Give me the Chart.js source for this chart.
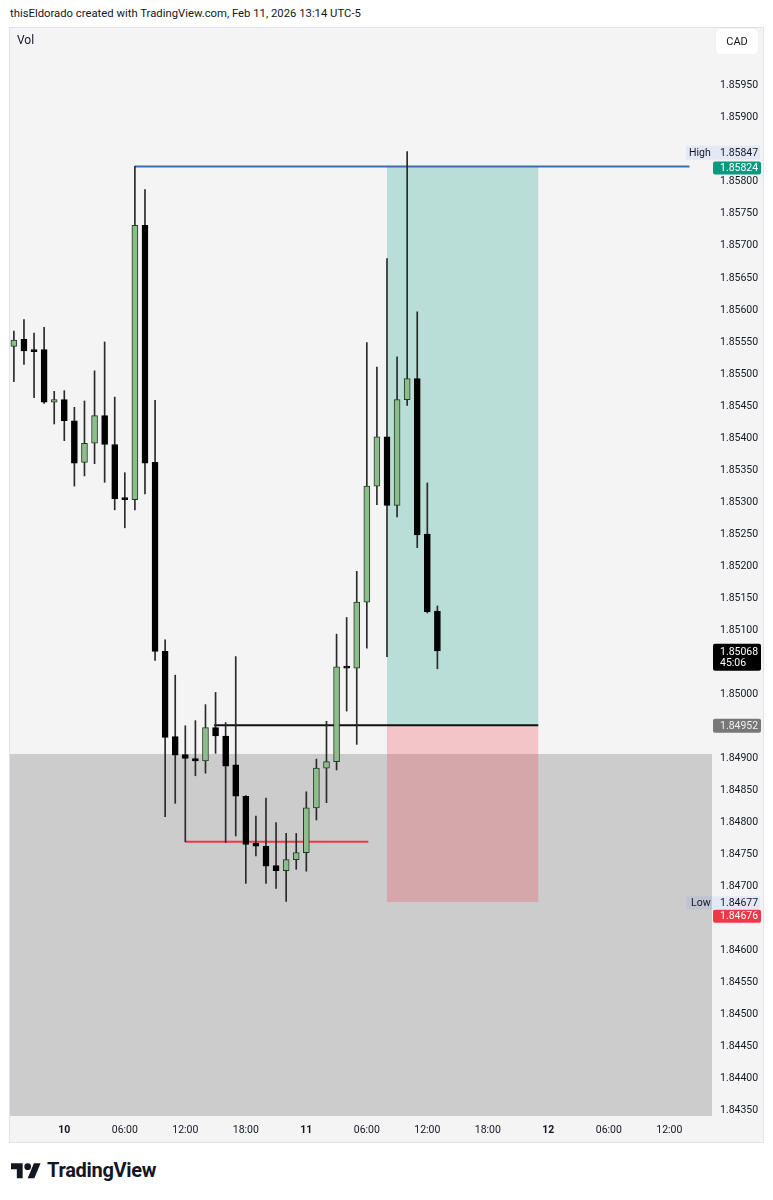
<!DOCTYPE html>
<html>
<head>
<meta charset="utf-8">
<script src="https://cdn.jsdelivr.net/npm/chart.js@4.4.1/dist/chart.umd.min.js"></script>
<style>
html,body{margin:0;padding:0;background:#fff;width:773px;height:1200px;overflow:hidden;font-family:Roboto,"Noto Sans",sans-serif;color:#131722}
#hdr{position:absolute;left:10px;top:6px;font-size:11.3px;line-height:16px;white-space:nowrap;color:#131722}
#pane{position:absolute;left:9px;top:27px;width:755px;height:1116px;background:#f4f4f4;box-sizing:border-box;border:1px solid #e0e3eb}
#cv{position:absolute;left:0;top:0}
#vol{position:absolute;left:17px;top:33px;font-size:12px;line-height:14px;color:#131722}
#cad{position:absolute;left:716px;top:29px;width:42px;height:25px;background:#fff;border-radius:4px;font-size:11px;line-height:25px;text-align:center;color:#131722;box-shadow:0 0 1px rgba(0,0,0,0.15)}
#logo{position:absolute;left:10px;top:1158px;display:flex;align-items:center;gap:5px}
#logo span{font-size:20px;font-weight:700;letter-spacing:-0.3px;color:#131722;line-height:24px}
</style>
</head>
<body>
<div id="hdr">thisEldorado created with TradingView.com, Feb 11, 2026 13:14 UTC-5</div>
<div id="pane"><canvas id="cv" width="753" height="1114"></canvas></div>
<div id="vol">Vol</div>
<div id="cad">CAD</div>
<div id="logo"><svg width="32" height="20" viewBox="0 0 36 24"><path d="M14 22H7V11H0V4h14v18zM28 22h-8l7.5-18h8L28 22z" fill="#131722"/><circle cx="20" cy="8" r="4" fill="#131722"/></svg><span>TradingView</span></div>
<script>
// ---- data (hours from Feb 10 00:00, 1H candles) ----
const hours  = [-5,-4,-3,-2,-1,0,1,2,3,4,5,6,7,8,9,10,11,12,13,14,15,16,17,18,19,20,21,22,23,24,25,26,27,28,29,30,31,32,33,34,35,36,37];
const opens  = [1.85543,1.85554,1.85537,1.85538,1.85456,1.85460,1.85427,1.85362,1.85392,1.85435,1.85390,1.85305,1.85304,1.85732,1.85362,1.85067,1.84934,1.84906,1.84900,1.84896,1.84948,1.84935,1.84890,1.84841,1.84768,1.84763,1.84733,1.84725,1.84742,1.84753,1.84823,1.84885,1.84895,1.85043,1.85041,1.85144,1.85325,1.85402,1.85295,1.85460,1.85493,1.85250,1.85130];
const highs  = [1.85567,1.85585,1.85564,1.85573,1.85473,1.85474,1.85448,1.85458,1.85505,1.85550,1.85464,1.85346,1.85824,1.85788,1.85459,1.85085,1.85030,1.84951,1.84959,1.84984,1.85003,1.84956,1.85059,1.84842,1.84810,1.84838,1.84800,1.84783,1.84783,1.84848,1.84899,1.84958,1.85094,1.85120,1.85192,1.85549,1.85511,1.85680,1.85527,1.85847,1.85597,1.85330,1.85138];
const lows   = [1.85488,1.85515,1.85463,1.85454,1.85422,1.85396,1.85325,1.85341,1.85360,1.85331,1.85288,1.85260,1.85288,1.85313,1.85053,1.84809,1.84830,1.84770,1.84873,1.84877,1.84908,1.84769,1.84779,1.84705,1.84748,1.84705,1.84697,1.84677,1.84727,1.84724,1.84804,1.84831,1.84882,1.84974,1.84922,1.85072,1.85296,1.85059,1.85277,1.85451,1.85229,1.85127,1.85040];
const closes = [1.85553,1.85536,1.85535,1.85456,1.85460,1.85427,1.85361,1.85392,1.85435,1.85390,1.85305,1.85304,1.85732,1.85361,1.85067,1.84933,1.84905,1.84900,1.84896,1.84948,1.84935,1.84888,1.84841,1.84766,1.84763,1.84732,1.84725,1.84742,1.84753,1.84823,1.84885,1.84895,1.85043,1.85041,1.85144,1.85325,1.85402,1.85295,1.85460,1.85493,1.85249,1.85129,1.85068];

const yTicks = [1.8595,1.8590,1.8580,1.8575,1.8570,1.8565,1.8560,1.8555,1.8550,1.8545,1.8540,1.8535,1.8530,1.8525,1.8520,1.8515,1.8510,1.8500,1.8490,1.8485,1.8480,1.8475,1.8470,1.8460,1.8455,1.8450,1.8445,1.8440,1.8435];
const xTickHours  = [0,6,12,18,24,30,36,42,48,54,60];
const xTickLabels = ["10","06:00","12:00","18:00","11","06:00","12:00","18:00","12","06:00","12:00"];
const dayLabels   = ["10","11","12"];

// drawings
const highLineHours = [7, 62];      const highLinePrice = 1.85824;
const entryLineHours = [14.85, 47]; const entryPrice = 1.84952;
const redLineHours = [12, 30.15];   const redLinePrice = 1.84770;
const positionHours = [32, 47];     const targetPrice = 1.85824; const stopPrice = 1.84676;
const grayZoneTop = 1.84907;
const rangeHigh = 1.85847, rangeLow = 1.84677, lastPrice = 1.85068, countdown = "45:06";

const xMin = -5.385, xMax = 64.23, yMin = 1.84342, yMax = 1.86040;

const zonePlugin = {
  id: 'zones',
  beforeDatasetsDraw(chart) {
    const {ctx, chartArea: a, scales: {x, y}} = chart;
    ctx.save();
    ctx.beginPath(); ctx.rect(a.left, a.top, a.right - a.left, a.bottom - a.top); ctx.clip();
    const gy = y.getPixelForValue(grayZoneTop);
    ctx.fillStyle = '#cccccc';
    ctx.fillRect(a.left, gy, a.right - a.left, a.bottom - gy);
    const x1 = x.getPixelForValue(positionHours[0]), x2 = x.getPixelForValue(positionHours[1]);
    const yt = y.getPixelForValue(targetPrice), ye = y.getPixelForValue(entryPrice), ys = y.getPixelForValue(stopPrice);
    ctx.fillStyle = 'rgba(8,153,129,0.25)';
    ctx.fillRect(x1, yt, x2 - x1, ye - yt);
    ctx.fillStyle = 'rgba(242,54,69,0.25)';
    ctx.fillRect(x1, ye, x2 - x1, ys - ye);
    ctx.restore();
  }
};

function tag(ctx, x, yc, w, h, bg, color, text) {
  ctx.fillStyle = bg;
  ctx.beginPath();
  if (ctx.roundRect) ctx.roundRect(x, yc - h / 2, w, h, 2); else ctx.rect(x, yc - h / 2, w, h);
  ctx.fill();
  ctx.fillStyle = color;
  ctx.textAlign = 'left'; ctx.textBaseline = 'middle';
  ctx.fillText(text, x + 7, yc + 0.5);
}

const tagPlugin = {
  id: 'tags',
  afterDraw(chart) {
    const {ctx, chartArea: a, scales: {y}} = chart;
    ctx.save();
    ctx.font = '10.5px Roboto, "Noto Sans", sans-serif';
    const ax = a.right + 1, w = 48;
    // High
    const yh = y.getPixelForValue(rangeHigh) + 1;
    ctx.fillStyle = 'rgba(41,98,255,0.08)';
    ctx.fillRect(a.right - 26, yh - 7, 26 + w, 14);
    ctx.fillStyle = '#131722'; ctx.textBaseline = 'middle'; ctx.textAlign = 'left';
    ctx.fillText('High', a.right - 23, yh + 0.5);
    ctx.fillText(rangeHigh.toFixed(5), ax + 7, yh + 0.5);
    // target line price
    tag(ctx, ax, y.getPixelForValue(highLinePrice) + 1.5, w, 13, '#089981', '#ffffff', highLinePrice.toFixed(5));
    // last price with countdown
    const yl = y.getPixelForValue(lastPrice);
    ctx.fillStyle = '#000000';
    ctx.beginPath();
    if (ctx.roundRect) ctx.roundRect(ax, yl - 7, w, 27, 2); else ctx.rect(ax, yl - 7, w, 27);
    ctx.fill();
    ctx.fillStyle = '#ffffff';
    ctx.fillText(lastPrice.toFixed(5), ax + 7, yl + 2);
    ctx.fillText(countdown, ax + 7, yl + 13);
    // entry
    tag(ctx, ax, y.getPixelForValue(entryPrice) + 0.5, w, 14, '#787878', '#f0f0f0', entryPrice.toFixed(5));
    // Low
    const ylo = y.getPixelForValue(rangeLow) + 2;
    ctx.fillStyle = 'rgba(41,98,255,0.08)';
    ctx.fillRect(a.right - 26, ylo - 7, 26 + w, 13);
    ctx.fillStyle = '#131722';
    ctx.fillText('Low', a.right - 21, ylo + 0.5);
    ctx.fillText(rangeLow.toFixed(5), ax + 7, ylo + 0.5);
    // stop (pushed below Low label)
    tag(ctx, ax, ylo + 13, w, 13, '#f23645', '#ffffff', stopPrice.toFixed(5));
    ctx.restore();
  }
};

const isUp = opens.map((o, i) => closes[i] >= o);

new Chart(document.getElementById('cv'), {
  type: 'bar',
  data: {
    datasets: [
      {
        type: 'line', order: 5,
        data: highLineHours.map(h => ({x: h, y: highLinePrice})),
        borderColor: '#3d6fb0', borderWidth: 2, pointRadius: 0
      },
      {
        type: 'line', order: 5,
        data: entryLineHours.map(h => ({x: h, y: entryPrice})),
        borderColor: '#111111', borderWidth: 2, pointRadius: 0
      },
      {
        type: 'line', order: 5,
        data: redLineHours.map(h => ({x: h, y: redLinePrice})),
        borderColor: '#f23645', borderWidth: 2, pointRadius: 0
      },
      {
        order: 2, grouped: false,
        data: hours.map((h, i) => ({x: h, y: [lows[i], highs[i]]})),
        backgroundColor: '#2a2a2a', barThickness: 1, borderWidth: 0
      },
      {
        order: 1, grouped: false,
        data: hours.map((h, i) => ({x: h, y: [opens[i], closes[i]]})),
        backgroundColor: isUp.map(u => u ? '#8dbd8d' : '#000000'),
        borderColor: isUp.map(u => u ? '#243a24' : '#000000'),
        borderWidth: 1, borderSkipped: false, barThickness: 6, minBarLength: 2
      }
    ]
  },
  options: {
    responsive: false, animation: false, devicePixelRatio: 1,
    layout: {padding: 0},
    plugins: {legend: {display: false}, tooltip: {enabled: false}},
    scales: {
      x: {
        type: 'linear', min: xMin, max: xMax, offset: false,
        grid: {display: false, drawTicks: false}, border: {display: false},
        afterFit(s) { s.height = 26; s.paddingLeft = 0; s.paddingRight = 0; },
        afterBuildTicks(s) { s.ticks = xTickHours.map(v => ({value: v})); },
        ticks: {
          padding: 8, maxRotation: 0, autoSkip: false, color: '#131722',
          font: c => ({family: 'Roboto, "Noto Sans", sans-serif', size: 10.5, weight: dayLabels.includes(xTickLabels[xTickHours.indexOf(c.tick && c.tick.value)]) ? 'bold' : 'normal'}),
          callback: v => xTickLabels[xTickHours.indexOf(v)]
        }
      },
      y: {
        type: 'linear', position: 'right', min: yMin, max: yMax,
        grid: {display: false, drawTicks: false}, border: {display: false},
        afterFit(s) { s.width = 51; s.paddingTop = 0; s.paddingBottom = 0; },
        afterBuildTicks(s) { s.ticks = yTicks.map(v => ({value: v})); },
        ticks: {
          padding: 8, autoSkip: false, color: '#131722',
          font: {family: 'Roboto, "Noto Sans", sans-serif', size: 10.5},
          callback: v => v.toFixed(5)
        }
      }
    }
  },
  plugins: [zonePlugin, tagPlugin]
});
</script>
</body>
</html>
